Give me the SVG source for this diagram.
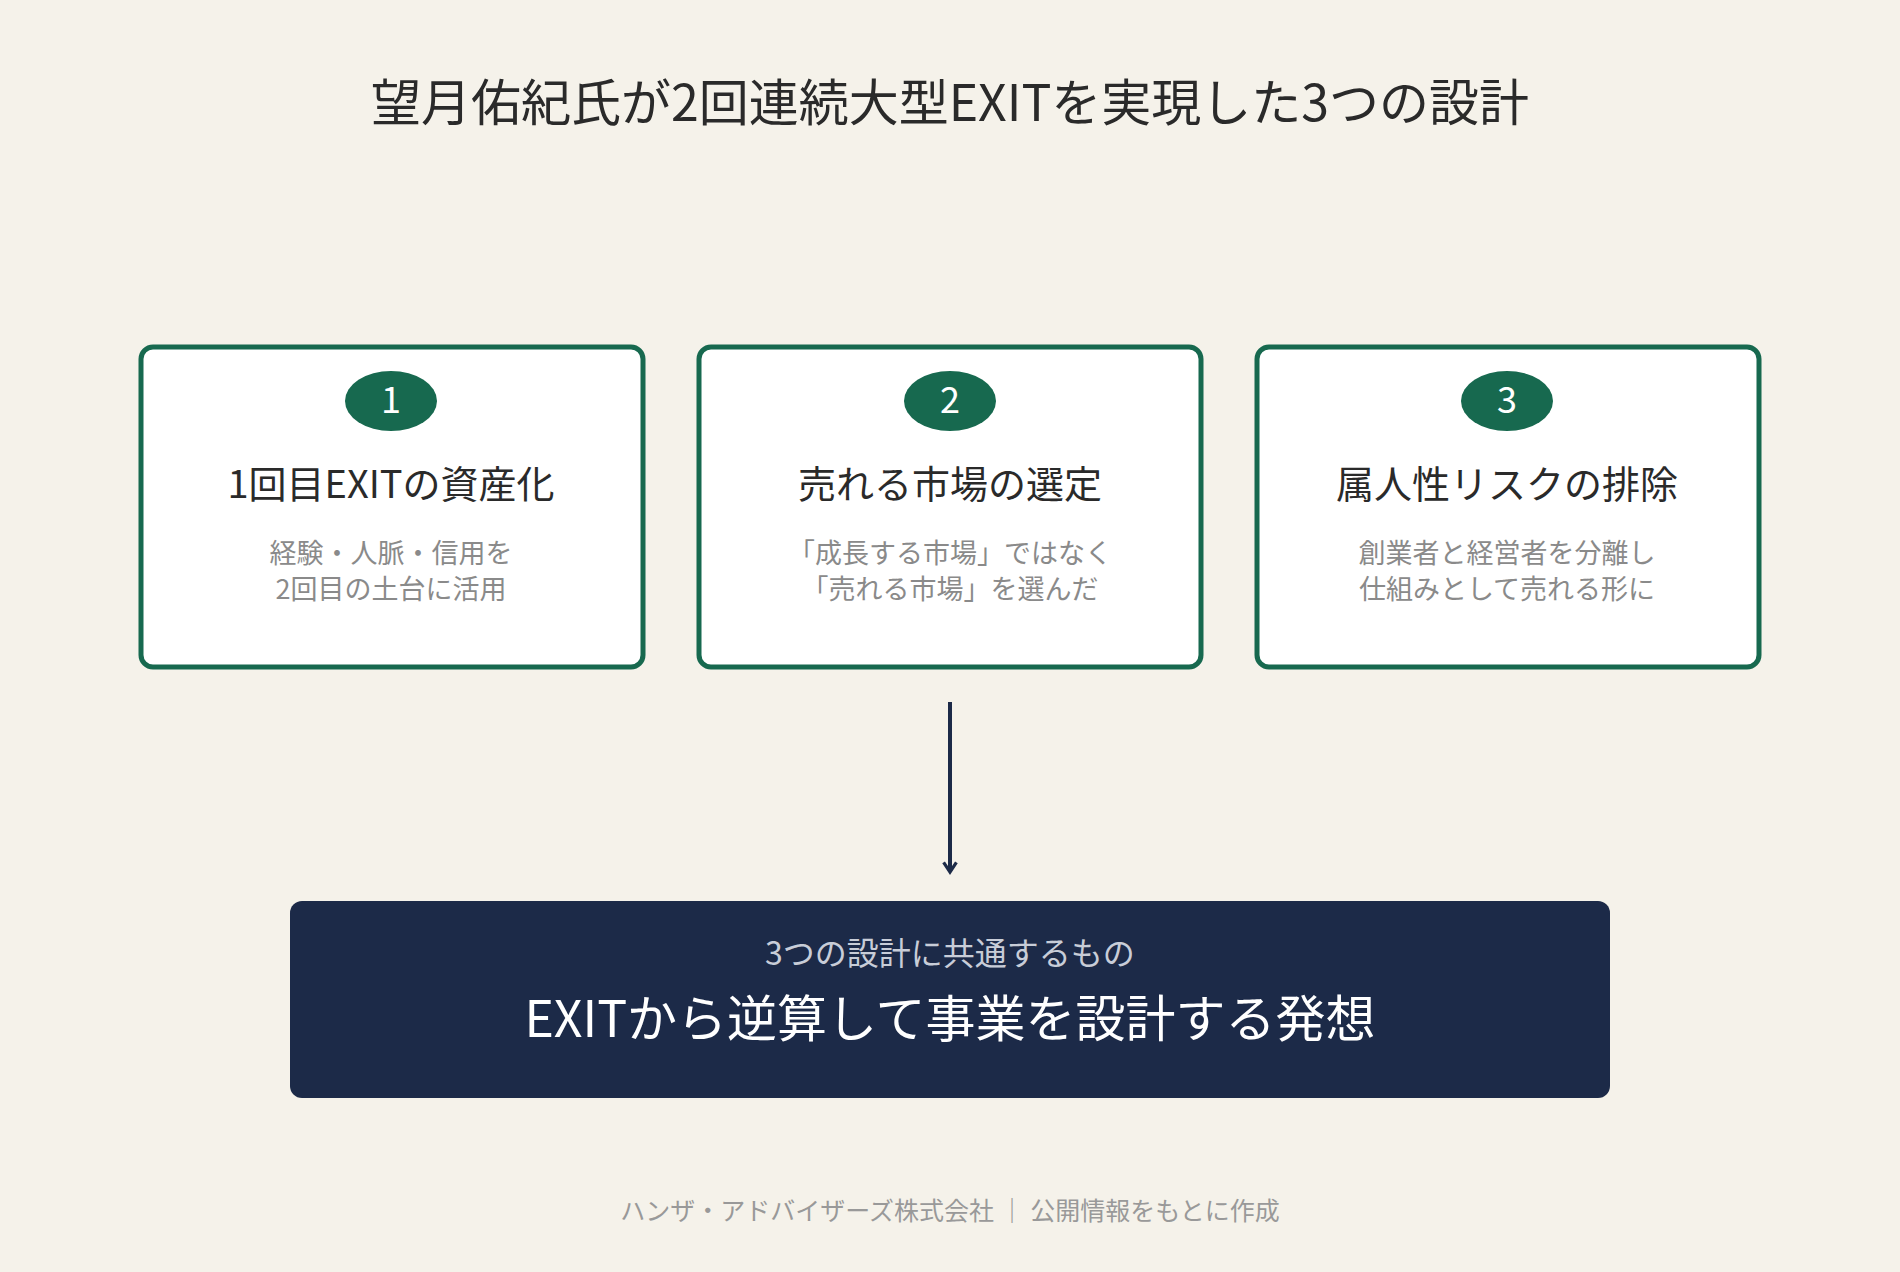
<svg xmlns="http://www.w3.org/2000/svg" width="1900" height="1272" viewBox="0 0 1900 1272">
<defs>
<style>
text{font-family:"Noto Sans CJK JP","Noto Sans",sans-serif;text-anchor:middle}
.card{fill:#fff;stroke:#17694f;stroke-width:5}
.badge{fill:#17694f}
.num{fill:#fff;font-size:36px}
.head{fill:#2a2a2a;font-size:38px}
.sub{fill:#8a8a8a;font-size:27px}
</style>
<marker id="ah" viewBox="0 0 10 10" refX="8" refY="5" markerWidth="4" markerHeight="4" orient="auto" markerUnits="strokeWidth">
<path d="M2,1 L8,5 L2,9" fill="none" stroke="#1c2a48" stroke-width="2"/>
</marker>
</defs>
<rect width="1900" height="1272" fill="#f5f2ea"/>
<text id="title" x="950" y="121" font-size="50" fill="#2a2a2a">望月佑紀氏が2回連続大型EXITを実現した3つの設計</text>
<g id="card1">
<rect class="card" x="141" y="347" width="502" height="320" rx="12"/>
<ellipse class="badge" cx="391" cy="401" rx="46" ry="30"/>
<text class="num" x="391" y="413">1</text>
<text class="head" x="391" y="498">1回目EXITの資産化</text>
<text class="sub" x="391" y="563">経験・人脈・信用を</text>
<text class="sub" x="391" y="599">2回目の土台に活用</text>
</g>
<g id="card2">
<rect class="card" x="699" y="347" width="502" height="320" rx="12"/>
<ellipse class="badge" cx="950" cy="401" rx="46" ry="30"/>
<text class="num" x="950" y="413">2</text>
<text class="head" x="950" y="498">売れる市場の選定</text>
<text class="sub" x="950" y="563">「成長する市場」ではなく</text>
<text class="sub" x="950" y="599">「売れる市場」を選んだ</text>
</g>
<g id="card3">
<rect class="card" x="1257" y="347" width="502" height="320" rx="12"/>
<ellipse class="badge" cx="1507" cy="401" rx="46" ry="30"/>
<text class="num" x="1507" y="413">3</text>
<text class="head" x="1507" y="498">属人性リスクの排除</text>
<text class="sub" x="1507" y="563">創業者と経営者を分離し</text>
<text class="sub" x="1507" y="599">仕組みとして売れる形に</text>
</g>
<g id="connectors">
<line x1="950" y1="702" x2="950" y2="872" stroke="#1c2a48" stroke-width="4" marker-end="url(#ah)"/>
</g>
<g id="summary">
<rect x="290" y="901" width="1320" height="197" rx="12" fill="#1c2a48"/>
<text x="950" y="965" font-size="32" fill="#c8cdd8">3つの設計に共通するもの</text>
<text x="950" y="1037" font-size="50" fill="#ffffff">EXITから逆算して事業を設計する発想</text>
</g>
<text id="footer" x="950" y="1220" font-size="25" fill="#999">ハンザ・アドバイザーズ株式会社 ｜ 公開情報をもとに作成</text>
</svg>
